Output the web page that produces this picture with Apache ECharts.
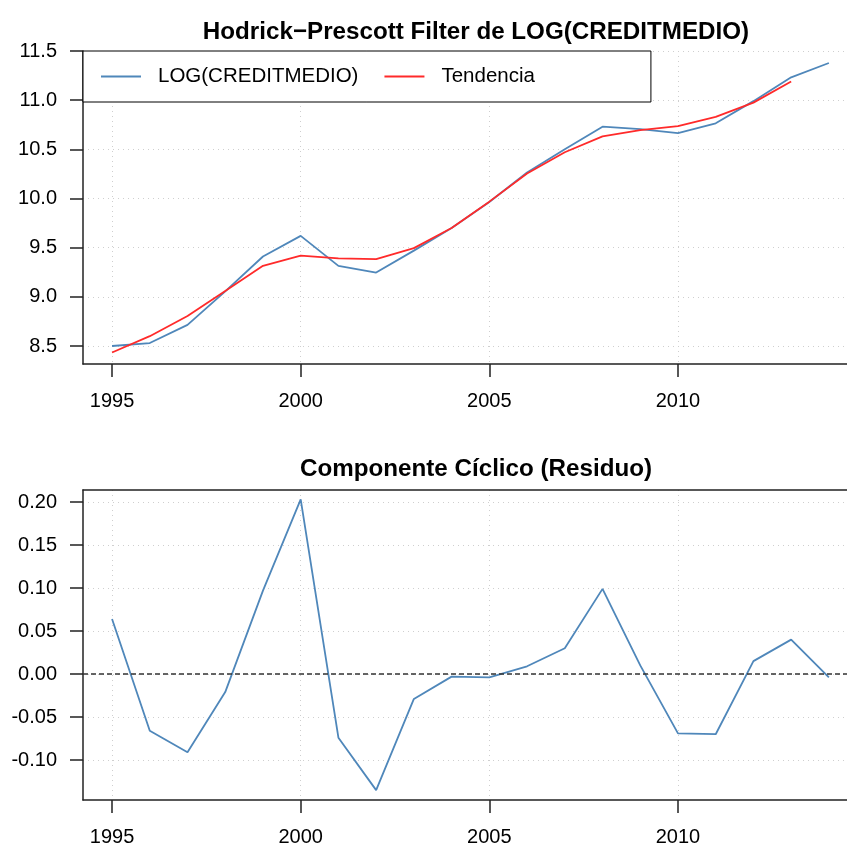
<!DOCTYPE html>
<html>
<head>
<meta charset="utf-8">
<title>Hodrick-Prescott</title>
<script src="https://cdn.jsdelivr.net/npm/echarts@6/dist/echarts.min.js"></script>
<style>
  html, body { margin: 0; padding: 0; background: #fff; }
  #chart { width: 847px; height: 847px; }
</style>
</head>
<body>
<div id="chart"></div>
<script>
// data
var years = [1995, 1996, 1997, 1998, 1999, 2000, 2001, 2002, 2003, 2004,
  2005, 2006, 2007, 2008, 2009, 2010, 2011, 2012, 2013, 2014];
var logCredit = [8.50, 8.53, 8.715, 9.055, 9.41, 9.62, 9.315, 9.247, 9.47, 9.70,
  9.965, 10.265, 10.50, 10.73, 10.705, 10.665, 10.765, 10.99, 11.232, 11.378];
var tendencia = [8.434, 8.60, 8.805, 9.06, 9.315, 9.42, 9.392, 9.383, 9.495, 9.70,
  9.968, 10.255, 10.47, 10.632, 10.695, 10.735, 10.83, 10.975, 11.19];
var ciclico = [0.064, -0.066, -0.091, -0.021, 0.097, 0.203, -0.074, -0.135, -0.029, -0.003,
  -0.004, 0.009, 0.030, 0.099, 0.010, -0.069, -0.070, 0.015, 0.040, -0.004];

var yearTicks = [1995, 2000, 2005, 2010];
var topTicks = [8.5, 9.0, 9.5, 10.0, 10.5, 11.0, 11.5];
var bottomTicks = [-0.10, -0.05, 0.00, 0.05, 0.10, 0.15, 0.20];

(function() {
  'use strict';

  var font = '"Liberation Sans", Arial, Helvetica, sans-serif';
  var axisColor = '#222';
  var gridStyle = { color: '#cfcfcf', type: [1, 4], width: 1 };

  function pairs(vals) {
    return vals.map(function(v, i) { return [years[i], v]; });
  }

  function xAxis(gridIndex) {
    return {
      type: 'value', gridIndex: gridIndex,
      min: 1994.23, max: 2014.48,
      axisLine: { show: true, onZero: false, lineStyle: { color: axisColor, width: 1.5 } },
      axisTick: { show: true, length: 13, customValues: yearTicks,
        lineStyle: { color: axisColor, width: 1.5 } },
      axisLabel: { customValues: yearTicks, margin: 27, color: '#000',
        fontFamily: font, fontSize: 20,
        formatter: function(v) { return String(v); } },
      splitLine: { show: true, lineStyle: gridStyle }
    };
  }

  function yAxis(gridIndex, min, max, ticks, digits) {
    return {
      type: 'value', gridIndex: gridIndex, min: min, max: max,
      axisLine: { show: true, lineStyle: { color: axisColor, width: 1.5 } },
      axisTick: { show: true, length: 13, customValues: ticks,
        lineStyle: { color: axisColor, width: 1.5 } },
      axisLabel: { customValues: ticks, margin: 26, color: '#000',
        fontFamily: font, fontSize: 20,
        formatter: function(v) { return v.toFixed(digits); } },
      splitLine: { show: true, lineStyle: gridStyle }
    };
  }

  // top border of the lower panel
  var boxTop = {
    type: 'value', gridIndex: 1, position: 'top',
    min: 1994.23, max: 2014.48,
    axisLine: { show: true, onZero: false, lineStyle: { color: axisColor, width: 1.5 } },
    axisTick: { show: false }, axisLabel: { show: false }, splitLine: { show: false }
  };

  var titleStyle = { fontFamily: font, fontSize: 24.2, fontWeight: 'bold', color: '#000' };

  var option = {
    animation: false,
    backgroundColor: '#fff',
    title: [
      { text: 'Hodrick\u2212Prescott Filter de LOG(CREDITMEDIO)', left: 471, top: 15,
        textAlign: 'center', textStyle: titleStyle },
      { text: 'Componente Cíclico (Residuo)', left: 471, top: 452,
        textAlign: 'center', textStyle: titleStyle }
    ],
    legend: {
      data: ['LOG(CREDITMEDIO)', 'Tendencia'],
      left: 83, top: 51, orient: 'horizontal', icon: 'rect',
      backgroundColor: '#fff', borderColor: '#000', borderWidth: 1, borderRadius: 0,
      padding: [15, 116, 15, 18],
      itemWidth: 40, itemHeight: 2, itemGap: 26,
      textStyle: { fontFamily: font, fontSize: 20.5, lineHeight: 20, color: '#000',
        padding: [0, 0, 0, 12] }
    },
    grid: [
      { left: 83, top: 51, right: 0, height: 313 },
      { left: 83, top: 490, right: 0, height: 310 }
    ],
    xAxis: [xAxis(0), xAxis(1), boxTop],
    yAxis: [
      yAxis(0, 8.317, 11.5, topTicks, 1),
      yAxis(1, -0.1465, 0.214, bottomTicks, 2)
    ],
    series: [
      {
        name: 'LOG(CREDITMEDIO)', type: 'line', xAxisIndex: 0, yAxisIndex: 0,
        data: pairs(logCredit), symbol: 'none',
        lineStyle: { color: '#4f87ba', width: 1.8 }, itemStyle: { color: '#4f87ba' }
      },
      {
        name: 'Tendencia', type: 'line', xAxisIndex: 0, yAxisIndex: 0,
        data: pairs(tendencia), symbol: 'none',
        lineStyle: { color: '#ff2a2a', width: 1.8 }, itemStyle: { color: '#ff2a2a' }
      },
      {
        name: 'Ciclo', type: 'line', xAxisIndex: 1, yAxisIndex: 1,
        data: pairs(ciclico), symbol: 'none',
        lineStyle: { color: '#4f87ba', width: 1.8 },
        markLine: {
          silent: true, symbol: 'none', label: { show: false },
          lineStyle: { color: '#333', type: [5, 3], width: 1.5 },
          data: [{ yAxis: 0 }]
        }
      }
    ]
  };

  var chart = echarts.init(document.getElementById('chart'), null, { renderer: 'canvas' });
  chart.setOption(option);
})();
</script>
</body>
</html>
